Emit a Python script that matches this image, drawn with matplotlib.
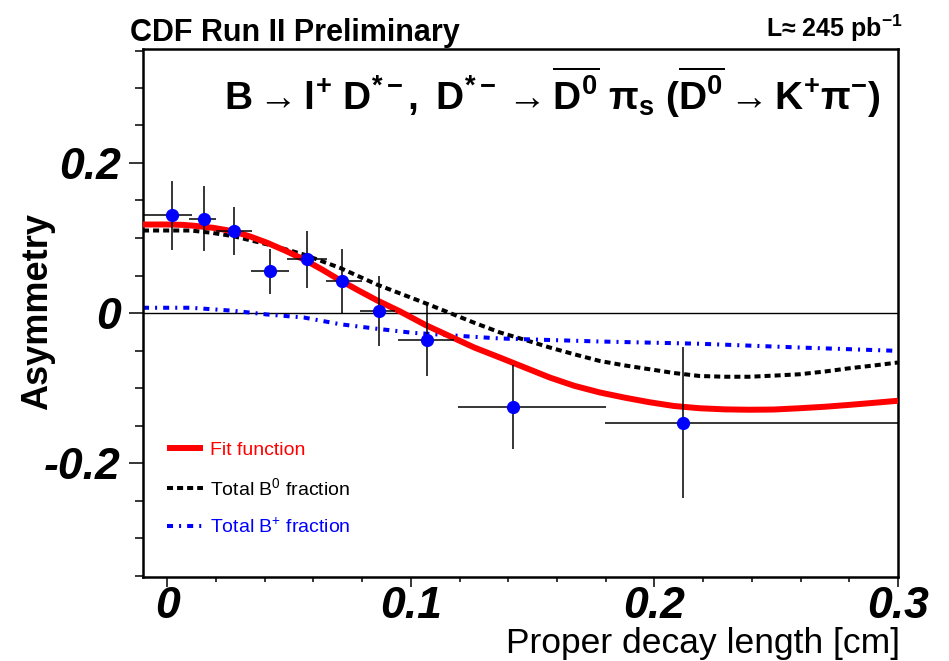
import numpy as np
import matplotlib
matplotlib.use('Agg')
import matplotlib.pyplot as plt
from matplotlib.ticker import MultipleLocator

plt.rcParams['font.family'] = ['Liberation Sans', 'DejaVu Sans']
plt.rcParams['mathtext.fontset'] = 'custom'
plt.rcParams['mathtext.rm'] = 'Liberation Sans'
plt.rcParams['mathtext.it'] = 'Liberation Sans:italic'
plt.rcParams['mathtext.bf'] = 'Liberation Sans:bold'

# 数据点 (读自图片)
pt_x = [0.002, 0.015, 0.0273, 0.0423, 0.0573, 0.0717, 0.0867, 0.1066, 0.142, 0.2117]
pt_y = [0.1305, 0.126, 0.109, 0.056, 0.0715, 0.0426, 0.003, -0.036, -0.125, -0.146]
xerr_lo = [0.012, 0.0061, 0.0075, 0.0079, 0.0083, 0.0067, 0.0077, 0.0117, 0.0225, 0.032]
xerr_hi = [0.0082, 0.0048, 0.0075, 0.0075, 0.0083, 0.0083, 0.0069, 0.0109, 0.038, 0.0883]
yerr = [0.046, 0.043, 0.032, 0.030, 0.038, 0.043, 0.047, 0.048, 0.056, 0.101]

# 拟合曲线
fit_x = [-0.01, 0.0, 0.0065, 0.012, 0.019, 0.027, 0.034, 0.041, 0.0485, 0.056, 0.0635,
         0.071, 0.0785, 0.086, 0.0956, 0.106, 0.116, 0.126, 0.1366, 0.147, 0.157, 0.167,
         0.1776, 0.188, 0.198, 0.208, 0.2186, 0.229, 0.239, 0.249, 0.2595, 0.27, 0.28, 0.29, 0.3]
fit_y = [0.118, 0.118, 0.1175, 0.116, 0.1135, 0.109, 0.102, 0.0936, 0.083, 0.0715, 0.058,
         0.0435, 0.030, 0.017, 0.002, -0.016, -0.031, -0.046, -0.0595, -0.073, -0.086, -0.097,
         -0.106, -0.113, -0.119, -0.124, -0.127, -0.1285, -0.129, -0.1287, -0.127, -0.125,
         -0.1225, -0.1198, -0.117]

b0_x = [-0.01, 0.0096, 0.018, 0.027, 0.034, 0.041, 0.0485, 0.056, 0.0635, 0.071, 0.0785,
        0.086, 0.0956, 0.106, 0.116, 0.126, 0.1366, 0.147, 0.157, 0.167, 0.1776, 0.188,
        0.198, 0.208, 0.2186, 0.229, 0.239, 0.249, 0.2595, 0.27, 0.28, 0.29, 0.3]
b0_y = [0.110, 0.110, 0.107, 0.1025, 0.097, 0.0915, 0.085, 0.078, 0.069, 0.060, 0.049,
        0.038, 0.026, 0.013, 0.0, -0.013, -0.026, -0.036, -0.046, -0.055, -0.064, -0.070,
        -0.075, -0.080, -0.084, -0.085, -0.085, -0.0835, -0.0817, -0.078, -0.0737, -0.070, -0.066]

bp_x = [-0.01, 0.0096, 0.027, 0.041, 0.056, 0.071, 0.086, 0.101, 0.1366, 0.1776, 0.2186, 0.2595, 0.3]
bp_y = [0.007, 0.007, 0.003, -0.002, -0.006, -0.015, -0.021, -0.0265, -0.034, -0.038, -0.041, -0.046, -0.0505]

W, H = 949, 661
fig = plt.figure(figsize=(W / 100, H / 100), dpi=100, facecolor='white')
ax = fig.add_axes([143 / W, 1 - 577 / H, (898 - 143) / W, (577 - 49) / H])

ax.axhline(0, color='black', lw=1.0, zorder=1)

l_fit, = ax.plot(fit_x, fit_y, color='#ff0000', lw=4.3, solid_capstyle='butt', zorder=3,
                 label='Fit function')
l_b0, = ax.plot(b0_x, b0_y, color='black', lw=2.9, linestyle=(0, (1.5, 1.0)), zorder=2,
                label=r'Total B$^{0}$ fraction')
l_bp, = ax.plot(bp_x, bp_y, color='#0000ff', lw=2.9, linestyle=(0, (1.5, 1.5, 0.5, 1.5)), zorder=2,
                label=r'Total B$^{+}$ fraction')

ax.errorbar(pt_x, pt_y, xerr=[xerr_lo, xerr_hi], yerr=yerr, fmt='o', color='#0000ff',
            ms=8.5, ecolor='black', elinewidth=1.1, capsize=0, zorder=4)

ax.set_xlim(-0.01, 0.3)
ax.set_ylim(-0.352, 0.352)

ax.set_xticks([0, 0.1, 0.2, 0.3])
ax.set_xticklabels(['0', '0.1', '0.2', '0.3'])
ax.set_yticks([-0.2, 0, 0.2])
ax.set_yticklabels(['-0.2', '0', '0.2'])
ax.xaxis.set_minor_locator(MultipleLocator(0.02))
ax.yaxis.set_minor_locator(MultipleLocator(0.05))

for lab in ax.get_xticklabels() + ax.get_yticklabels():
    lab.set_fontsize(32)
    lab.set_fontweight('bold')
    lab.set_fontstyle('italic')

ax.tick_params(axis='x', which='major', direction='out', length=7.2, width=1.1, pad=-1)
ax.tick_params(axis='x', which='minor', direction='out', length=3.6, width=1.1)
ax.tick_params(axis='y', which='major', direction='out', length=10, width=1.1, pad=6)
ax.tick_params(axis='y', which='minor', direction='out', length=5.8, width=1.1)

for sp in ax.spines.values():
    sp.set_linewidth(1.8)

leg = ax.legend(handles=[l_fit, l_b0, l_bp], loc='upper left', frameon=False,
                bbox_to_anchor=(167 / W, 1 - 441 / H), bbox_transform=fig.transFigure,
                fontsize=14, handlelength=1.85, handletextpad=0.35, labelspacing=0.95,
                borderpad=0, borderaxespad=0)
for t, c in zip(leg.get_texts(), ['#ff0000', 'black', '#0000ff']):
    t.set_color(c)

fig.text(130 / W, 1 - 41 / H, 'CDF Run II Preliminary', fontsize=22, fontweight='bold',
         ha='left', va='baseline')
fig.text(903 / W, 1 - 37 / H, 'L≈ 245 pb' + r'$^{\mathbf{-1}}$', fontsize=18,
         fontweight='bold', ha='right', va='baseline')
fig.text(880 / W, 1 - 110 / H,
         r'$\mathbf{B \rightarrow l^{+}\ D^{*-},\ D^{*-} \rightarrow \overline{D^{0}}\ \pi_{s}\ '
         r'(\overline{D^{0}} \rightarrow K^{+}\pi^{-})}$',
         fontsize=28, ha='right', va='baseline')

fig.text(38 / W, 1 - 312 / H, 'Asymmetry', rotation=90, fontsize=26, fontweight='bold',
         ha='center', va='center')
fig.text(900 / W, 1 - 653 / H, 'Proper decay length [cm]', fontsize=25.5,
         ha='right', va='baseline')

fig.savefig('out.png', dpi=100, facecolor='white')
